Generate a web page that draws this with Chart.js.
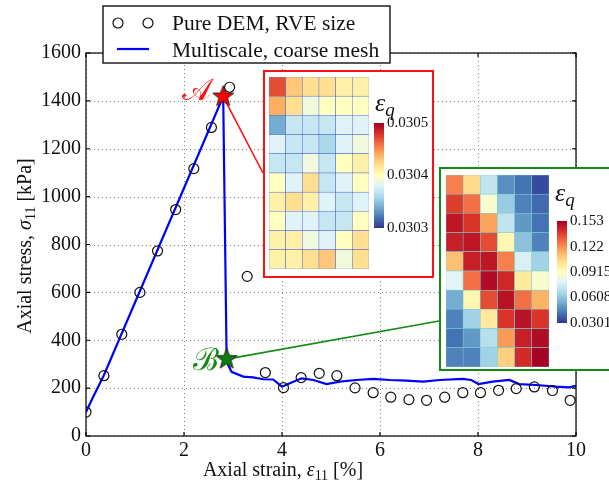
<!DOCTYPE html>
<html>
<head>
<meta charset="utf-8">
<script src="https://cdn.jsdelivr.net/npm/chart.js@4/dist/chart.umd.min.js"></script>
<style>
  body { margin: 0; width: 609px; height: 487px; overflow: hidden; position: relative; background: #fff; }
  #main { position: absolute; left: 0; top: 0; }
  .inset { position: absolute; background: #fff; box-sizing: border-box; border: 2px solid red; }
  .inset canvas { position: absolute; }
  .eq { position: absolute; font-family: "Liberation Serif", serif; font-style: italic; font-size: 26px; line-height: 1; color: #111; }
  .eq sub { font-size: 19px; vertical-align: -5px; }
</style>
</head>
<body>
<canvas id="main" width="609" height="487"></canvas>

<div class="inset" id="insA" style="left:263px;top:70px;width:171px;height:208px;border-color:#ff1010;">
  <canvas id="heatA" width="100" height="192" style="left:4px;top:5px;"></canvas>
  <canvas id="barA" width="62" height="129" style="left:109px;top:39px;"></canvas>
  <span class="eq" style="left:110px;top:18px;">ε<sub>q</sub></span>
</div>

<div class="inset" id="insB" style="left:439px;top:167px;width:200px;height:204px;border-color:#138a13;">
  <canvas id="heatB" width="103" height="192" style="left:5px;top:6px;"></canvas>
  <canvas id="barB" width="70" height="126" style="left:116px;top:40px;"></canvas>
  <span class="eq" style="left:114px;top:11px;">ε<sub>q</sub></span>
</div>

<script>
// ---- data ----
const demX = [0, 0.366, 0.73, 1.10, 1.46, 1.83, 2.20, 2.56, 2.93, 3.29, 3.66, 4.03, 4.39, 4.76,
              5.12, 5.49, 5.86, 6.22, 6.59, 6.95, 7.32, 7.69, 8.05, 8.42, 8.78, 9.15, 9.52, 9.88];
const demY = [100, 252, 425, 600, 773, 946, 1117, 1289, 1457, 667, 265, 202, 244, 262,
              252, 201, 181, 162, 152, 149, 162, 181, 181, 191, 198, 205, 190, 149];

const msX = [0, 0.15, 0.36, 2.80, 2.87, 2.90, 2.97, 3.21, 3.41, 3.62, 3.82, 4.00, 4.16, 4.40, 4.64, 4.91,
             5.18, 5.52, 5.86, 6.20, 6.54, 6.88, 7.22, 7.69, 7.86, 8.01, 8.30, 8.64, 8.84, 9.18, 9.59, 9.86, 10.0];
const msY = [100, 165, 252, 1418, 321, 297, 268, 248, 245, 237, 236, 206, 220, 241, 234, 217,
             227, 234, 239, 234, 231, 227, 234, 239, 234, 217, 227, 234, 217, 213, 206, 203, 210];

const pointA = [2.80, 1418];
const pointB = [2.87, 321];

const xTicks = [0, 2, 4, 6, 8, 10];
const yTicks = [0, 200, 400, 600, 800, 1000, 1200, 1400, 1600];

// inset A: eps_q at state A (rows top -> bottom, 6 columns)
const epsA = [
  [0.03047, 0.03043, 0.03042, 0.03042, 0.03041, 0.03041],
  [0.03044, 0.03042, 0.03039, 0.03040, 0.03040, 0.03040],
  [0.03034, 0.03037, 0.03037, 0.03037, 0.03038, 0.03038],
  [0.03038, 0.03037, 0.03037, 0.03036, 0.03038, 0.03039],
  [0.03037, 0.03037, 0.03039, 0.03037, 0.03040, 0.03041],
  [0.03040, 0.03038, 0.03042, 0.03037, 0.03038, 0.03040],
  [0.03041, 0.03042, 0.03041, 0.03038, 0.03037, 0.03038],
  [0.03040, 0.03038, 0.03038, 0.03037, 0.03037, 0.03040],
  [0.03041, 0.03041, 0.03039, 0.03038, 0.03040, 0.03042],
  [0.03041, 0.03041, 0.03042, 0.03043, 0.03039, 0.03042]
];
const barTicksA = [0.0303, 0.0304, 0.0305];
const barLabelsA = ['0.0303', '0.0304', '0.0305'];

// inset B: eps_q at state B
const epsB = [
  [0.125, 0.105, 0.072, 0.048, 0.042, 0.034],
  [0.138, 0.128, 0.088, 0.063, 0.045, 0.040],
  [0.147, 0.140, 0.118, 0.072, 0.050, 0.042],
  [0.145, 0.147, 0.135, 0.095, 0.060, 0.045],
  [0.112, 0.145, 0.147, 0.125, 0.078, 0.065],
  [0.080, 0.128, 0.150, 0.143, 0.100, 0.088],
  [0.055, 0.095, 0.135, 0.148, 0.128, 0.115],
  [0.045, 0.065, 0.100, 0.140, 0.148, 0.140],
  [0.042, 0.050, 0.070, 0.120, 0.145, 0.150],
  [0.045, 0.045, 0.065, 0.108, 0.142, 0.153]
];
const barTicksB = [0.0301, 0.0608, 0.0915, 0.122, 0.153];
const barLabelsB = ['0.0301', '0.0608', '0.0915', '0.122', '0.153'];

// ---- helpers ----
const SERIF = '"Liberation Serif", "Times New Roman", serif';
const RDYLBU = ['#313695', '#4575b4', '#74add1', '#abd9e9', '#e0f3f8', '#ffffbf',
                '#fee090', '#fdae61', '#f46d43', '#d73027', '#a50026'];

function hex2rgb(h) {
  return [parseInt(h.slice(1, 3), 16), parseInt(h.slice(3, 5), 16), parseInt(h.slice(5, 7), 16)];
}
function cmap(t) {
  t = Math.max(0, Math.min(1, t));
  const p = t * (RDYLBU.length - 1);
  const i = Math.min(Math.floor(p), RDYLBU.length - 2);
  const f = p - i;
  const a = hex2rgb(RDYLBU[i]), b = hex2rgb(RDYLBU[i + 1]);
  const c = a.map((v, k) => Math.round(v + (b[k] - v) * f));
  return 'rgb(' + c.join(',') + ')';
}

function starImg(fill, r) {
  const c = document.createElement('canvas');
  const s = Math.ceil(r * 2 + 4);
  c.width = c.height = s;
  const g = c.getContext('2d');
  g.beginPath();
  for (let k = 0; k < 10; k++) {
    const rr = k % 2 ? r * 0.42 : r;
    const a = -Math.PI / 2 + k * Math.PI / 5;
    g.lineTo(s / 2 + rr * Math.cos(a), s / 2 + rr * Math.sin(a));
  }
  g.closePath();
  g.fillStyle = fill;
  g.fill();
  g.strokeStyle = '#222';
  g.lineWidth = 1;
  g.stroke();
  return c;
}

function richText(ctx, parts, x, y) {
  let w = 0;
  parts.forEach(p => { ctx.font = p.font; w += ctx.measureText(p.t).width; });
  let cx = x - w / 2;
  parts.forEach(p => {
    ctx.font = p.font;
    ctx.fillText(p.t, cx, y + (p.dy || 0));
    cx += ctx.measureText(p.t).width;
  });
}

// connector ends on the inset boxes (page pixels)
const insetA = { x: 263, y: 173, color: '#ff1010' };
const insetB = { x: 439, y: 321, color: '#138a13' };

const decorations = {
  id: 'decorations',
  beforeDatasetsDraw(chart) {
    const { ctx, chartArea: a, scales: { x, y } } = chart;
    ctx.save();
    // dotted grid
    ctx.strokeStyle = '#808080';
    ctx.lineWidth = 1;
    ctx.setLineDash([1, 3]);
    ctx.beginPath();
    xTicks.forEach(v => {
      const px = Math.round(x.getPixelForValue(v)) + 0.5;
      ctx.moveTo(px, a.top); ctx.lineTo(px, a.bottom);
    });
    yTicks.forEach(v => {
      const py = Math.round(y.getPixelForValue(v)) + 0.5;
      ctx.moveTo(a.left, py); ctx.lineTo(a.right, py);
    });
    ctx.stroke();
    ctx.setLineDash([]);

    ctx.lineWidth = 1.6;
    ctx.strokeStyle = insetA.color;
    ctx.beginPath();
    ctx.moveTo(x.getPixelForValue(pointA[0]), y.getPixelForValue(pointA[1]));
    ctx.lineTo(insetA.x, insetA.y);
    ctx.stroke();
    ctx.strokeStyle = insetB.color;
    ctx.beginPath();
    ctx.moveTo(x.getPixelForValue(pointB[0]), y.getPixelForValue(pointB[1]));
    ctx.lineTo(insetB.x, insetB.y);
    ctx.stroke();
    ctx.restore();
  },
  afterDraw(chart) {
    const { ctx, chartArea: a, scales: { x, y } } = chart;
    ctx.save();
    // frame + inner ticks
    ctx.strokeStyle = '#000';
    ctx.lineWidth = 1.2;
    ctx.strokeRect(a.left, a.top, a.right - a.left, a.bottom - a.top);
    ctx.beginPath();
    xTicks.forEach(v => {
      const px = x.getPixelForValue(v);
      ctx.moveTo(px, a.bottom); ctx.lineTo(px, a.bottom - 4);
      ctx.moveTo(px, a.top); ctx.lineTo(px, a.top + 4);
    });
    yTicks.forEach(v => {
      const py = y.getPixelForValue(v);
      ctx.moveTo(a.left, py); ctx.lineTo(a.left + 4, py);
      ctx.moveTo(a.right, py); ctx.lineTo(a.right - 4, py);
    });
    ctx.stroke();

    // point labels
    ctx.textAlign = 'right';
    ctx.textBaseline = 'alphabetic';
    ctx.font = '31px "DejaVu Serif", serif';
    ctx.fillStyle = '#ff1010';
    ctx.fillText('𝒜', x.getPixelForValue(pointA[0]) - 12, y.getPixelForValue(pointA[1]) + 3);
    ctx.fillStyle = '#138a13';
    ctx.fillText('ℬ', x.getPixelForValue(pointB[0]) - 8, y.getPixelForValue(pointB[1]) + 11);

    // legend
    ctx.fillStyle = '#fff';
    ctx.fillRect(103, 6, 287, 57);
    ctx.strokeStyle = '#111';
    ctx.lineWidth = 1.4;
    ctx.strokeRect(103, 6, 287, 57);
    ctx.lineWidth = 1.2;
    [118, 148].forEach(cx => {
      ctx.beginPath(); ctx.arc(cx, 23, 5, 0, Math.PI * 2); ctx.stroke();
    });
    ctx.strokeStyle = '#0000ff';
    ctx.lineWidth = 2.2;
    ctx.beginPath(); ctx.moveTo(117, 49); ctx.lineTo(149, 49); ctx.stroke();
    ctx.fillStyle = '#111';
    ctx.textAlign = 'left';
    ctx.font = '21.5px ' + SERIF;
    ctx.fillText('Pure DEM, RVE size', 172, 30);
    ctx.fillText('Multiscale, coarse mesh', 172, 57);

    // axis titles
    const base = '20px ' + SERIF, ital = 'italic 20px ' + SERIF, sub = '14px ' + SERIF;
    richText(ctx, [
      { t: 'Axial strain, ', font: base },
      { t: 'ε', font: ital },
      { t: '11', font: sub, dy: 4 },
      { t: ' [%]', font: base }
    ], 283, 476);
    ctx.translate(31, 246);
    ctx.rotate(-Math.PI / 2);
    richText(ctx, [
      { t: 'Axial stress, ', font: base },
      { t: 'σ', font: ital },
      { t: '11', font: sub, dy: 4 },
      { t: ' [kPa]', font: base }
    ], 0, 0);
    ctx.restore();
  }
};

new Chart(document.getElementById('main'), {
  type: 'line',
  data: {
    datasets: [
      { label: 'A', data: [{ x: pointA[0], y: pointA[1] }], showLine: false,
        pointStyle: starImg('#ff0000', 11), order: 0 },
      { label: 'B', data: [{ x: pointB[0], y: pointB[1] }], showLine: false,
        pointStyle: starImg('#0a7d0a', 11), order: 0 },
      { label: 'Pure DEM, RVE size', data: demX.map((v, i) => ({ x: v, y: demY[i] })),
        showLine: false, pointStyle: 'circle', pointRadius: 5, pointBorderWidth: 1.2,
        pointBorderColor: '#111', pointBackgroundColor: 'rgba(0,0,0,0)', order: 1 },
      { label: 'Multiscale, coarse mesh', data: msX.map((v, i) => ({ x: v, y: msY[i] })),
        borderColor: '#0000ff', borderWidth: 2.2, pointRadius: 0, tension: 0, order: 2 }
    ]
  },
  options: {
    responsive: false,
    animation: false,
    devicePixelRatio: 1,
    layout: { padding: { left: 0, top: 53, right: 33, bottom: 0 } },
    plugins: { legend: { display: false }, tooltip: { enabled: false } },
    scales: {
      x: {
        type: 'linear', min: 0, max: 10,
        afterBuildTicks: s => { s.ticks = xTicks.map(v => ({ value: v })); },
        ticks: { font: { family: SERIF, size: 20 }, color: '#111', padding: 3, maxRotation: 0,
                 callback: v => String(v) },
        grid: { display: false, drawTicks: false },
        border: { display: false },
        afterFit: s => { s.height = 51; }
      },
      y: {
        type: 'linear', min: 0, max: 1600,
        afterBuildTicks: s => { s.ticks = yTicks.map(v => ({ value: v })); },
        ticks: { font: { family: SERIF, size: 20 }, color: '#111', padding: 5,
                 callback: v => String(v) },
        grid: { display: false, drawTicks: false },
        border: { display: false },
        afterFit: s => { s.width = 86; }
      }
    }
  },
  plugins: [decorations]
});

function makeHeat(id, values, vmin, vmax, gridColor) {
  const rows = values.length;
  const labels = values[0].map((_, i) => 'c' + i);
  const datasets = [];
  for (let r = rows - 1; r >= 0; r--) {
    datasets.push({
      data: values[r].map(() => 1),
      backgroundColor: values[r].map(v => cmap((v - vmin) / (vmax - vmin))),
      borderColor: gridColor, borderWidth: 0.7, borderSkipped: false, inflateAmount: 0.5,
      barPercentage: 1, categoryPercentage: 1
    });
  }
  new Chart(document.getElementById(id), {
    type: 'bar',
    data: { labels, datasets },
    options: {
      responsive: false, animation: false, devicePixelRatio: 1,
      layout: { padding: 0 },
      plugins: { legend: { display: false }, tooltip: { enabled: false } },
      scales: {
        x: { display: false, stacked: true },
        y: { display: false, stacked: true, min: 0, max: rows }
      }
    }
  });
}

function makeColorbar(id, vmin, vmax, tickVals, tickLabels) {
  const el = document.getElementById(id);
  new Chart(el, {
    type: 'bar',
    data: {
      labels: ['cb'],
      datasets: [{
        data: [[vmin, vmax]],
        backgroundColor: ctx => {
          const a = ctx.chart.chartArea;
          if (!a) return '#ccc';
          const g = ctx.chart.ctx.createLinearGradient(0, a.bottom, 0, a.top);
          RDYLBU.forEach((c, i) => g.addColorStop(i / (RDYLBU.length - 1), c));
          return g;
        },
        borderWidth: 0, barPercentage: 1, categoryPercentage: 1
      }]
    },
    options: {
      responsive: false, animation: false, devicePixelRatio: 1,
      layout: { padding: { top: 8, bottom: 8, left: 0, right: 0 } },
      plugins: { legend: { display: false }, tooltip: { enabled: false } },
      scales: {
        x: { display: false },
        y: {
          position: 'right', min: vmin, max: vmax,
          grid: { display: false, drawTicks: false }, border: { display: false },
          afterBuildTicks: s => { s.ticks = tickVals.map(v => ({ value: v })); },
          ticks: { autoSkip: false, padding: 3, font: { family: SERIF, size: 15 }, color: '#111',
                   callback: (v, i) => tickLabels[i] },
          afterFit: s => { s.width = el.width - 10; }
        }
      }
    }
  });
}

makeHeat('heatA', epsA, 0.0303, 0.0305, 'rgba(70,95,200,0.75)');
makeColorbar('barA', 0.0303, 0.0305, barTicksA, barLabelsA);
makeHeat('heatB', epsB, 0.0301, 0.153, 'rgba(125,205,210,0.95)');
makeColorbar('barB', 0.0301, 0.153, barTicksB, barLabelsB);
</script>
</body>
</html>
